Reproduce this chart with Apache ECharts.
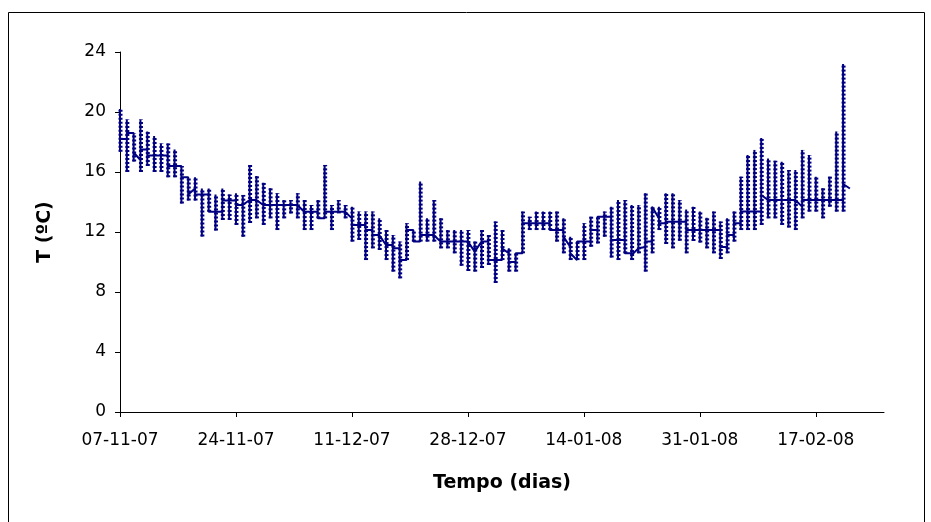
<!DOCTYPE html>
<html>
<head>
<meta charset="utf-8">
<title>Temperatura</title>
<script src="https://cdn.jsdelivr.net/npm/echarts@6/dist/echarts.min.js"></script>
<style>
  html, body { margin: 0; padding: 0; background: #ffffff; }
  #chart { width: 931px; height: 522px; }
</style>
</head>
<body>
<div id="chart"></div>
<script>
// Date tick labels every 17 days, counted from 07-11-07 (day 0)
const tickDays = [0, 17, 34, 51, 68, 85, 102];
const tickLabels = ['07-11-07', '24-11-07', '11-12-07', '28-12-07', '14-01-08', '31-01-08', '17-02-08'];

// Daily logger readings (ºC), one entry per day starting 07-11-07:
// first reading, daily minimum, daily maximum, last reading
const tStart = [
  18.2, 18.2, 18.6, 16.8, 17.5, 17.1, 17.1, 17.1, 16.4, 16.4,
  15.65, 14.9, 14.5, 14.5, 13.35, 13.35, 14.1, 14.1, 13.8, 14.13,
  14.13, 13.8, 13.8, 13.8, 13.8, 13.8, 13.8, 13.35, 13.35, 13.35,
  12.91, 13.35, 13.35, 13.35, 12.91, 12.47, 12.47, 12.13, 11.8, 11.13,
  11.13, 10.91, 10.13, 12.13, 11.36, 11.8, 11.8, 11.36, 11.36, 11.36,
  11.36, 11.36, 10.69, 11.36, 11.36, 10.13, 10.13, 10.58, 10.0, 10.58,
  12.58, 12.58, 12.58, 12.58, 12.13, 12.13, 11.02, 10.13, 11.36, 11.36,
  12.13, 13.02, 13.02, 11.47, 11.47, 10.58, 10.91, 11.0, 11.36, 12.91,
  12.58, 12.69, 12.69, 12.69, 12.13, 12.13, 12.13, 12.13, 12.13, 11.0,
  11.8, 12.58, 13.36, 13.36, 13.36, 14.13, 14.13, 14.13, 14.13, 14.13,
  13.69, 14.13, 14.13, 14.13, 14.13, 14.13, 14.13, 14.9
];
const tMin = [
  17.35, 16.0, 16.7, 16.0, 16.4, 16.0, 16.0, 15.65, 15.65, 13.9,
  14.1, 14.1, 11.7, 13.35, 12.1, 12.8, 12.8, 12.47, 11.69, 12.6,
  12.91, 12.47, 12.91, 12.13, 12.91, 13.24, 12.91, 12.13, 12.13, 12.91,
  12.91, 12.13, 13.24, 12.91, 11.36, 11.47, 10.13, 10.91, 10.8, 10.13,
  9.36, 8.91, 10.13, 11.36, 11.36, 11.36, 11.36, 10.91, 10.91, 10.58,
  9.75, 9.4, 9.36, 9.6, 9.8, 8.6, 10.13, 9.36, 9.36, 10.58,
  12.13, 12.13, 12.13, 12.13, 11.36, 10.58, 10.13, 10.13, 10.13, 11.02,
  11.24, 11.69, 10.3, 10.13, 10.58, 10.13, 10.58, 9.36, 10.58, 12.13,
  11.2, 10.91, 11.42, 10.58, 11.4, 11.3, 10.91, 10.58, 10.2, 10.58,
  11.36, 12.13, 12.13, 12.13, 12.47, 12.91, 12.91, 12.47, 12.3, 12.13,
  12.91, 13.36, 13.36, 12.91, 13.69, 13.36, 13.36, 14.9
];
const tMax = [
  20.2, 19.5, 18.6, 19.5, 18.7, 18.4, 17.9, 17.9, 17.5, 16.4,
  15.65, 15.65, 14.9, 14.9, 14.5, 14.9, 14.5, 14.58, 14.47, 16.47,
  15.73, 15.29, 14.91, 14.58, 14.13, 14.13, 14.58, 14.13, 13.8, 14.13,
  16.47, 13.8, 14.13, 13.8, 13.69, 13.36, 13.36, 13.36, 12.91, 12.13,
  11.8, 11.36, 12.58, 12.13, 15.36, 12.91, 14.13, 12.91, 12.13, 12.13,
  12.13, 12.13, 11.36, 12.13, 11.8, 12.7, 12.13, 10.91, 10.58, 13.36,
  13.02, 13.36, 13.36, 13.36, 13.36, 12.91, 11.69, 11.36, 12.58, 13.02,
  13.02, 13.36, 13.69, 14.13, 14.13, 13.8, 13.8, 14.58, 13.69, 13.69,
  14.58, 14.58, 14.13, 13.5, 13.69, 13.36, 12.95, 13.36, 12.7, 12.91,
  13.36, 15.69, 17.13, 17.47, 18.27, 16.9, 16.75, 16.69, 16.13, 16.13,
  17.47, 17.13, 15.69, 14.91, 15.69, 18.7, 23.2, 14.9
];
const tEnd = [
  18.2, 18.6, 17.3, 17.5, 17.1, 17.1, 17.1, 16.4, 16.4, 15.65,
  14.5, 14.5, 14.5, 13.35, 13.35, 14.1, 14.1, 13.8, 13.8, 14.13,
  14.13, 13.8, 13.8, 13.8, 13.8, 13.8, 13.8, 13.35, 13.35, 12.91,
  13.35, 13.35, 13.35, 13.35, 12.47, 12.47, 12.13, 11.8, 11.8, 11.13,
  10.91, 10.13, 12.13, 11.36, 11.8, 11.8, 11.8, 11.36, 11.36, 11.36,
  11.36, 11.36, 10.69, 11.36, 10.13, 10.13, 10.91, 10.0, 10.58, 12.58,
  12.58, 12.58, 12.58, 12.13, 12.13, 11.69, 10.58, 11.36, 11.36, 12.13,
  13.02, 13.02, 11.47, 11.47, 10.58, 10.47, 10.91, 11.36, 13.69, 12.58,
  12.69, 12.69, 12.69, 12.13, 12.13, 12.13, 12.13, 12.13, 11.0, 11.8,
  12.58, 13.36, 13.36, 13.36, 14.47, 14.13, 14.13, 14.13, 14.13, 14.13,
  14.13, 14.13, 14.13, 14.13, 14.13, 14.13, 15.2, 14.9
];

// All readings of one day share the same x position, so the trace
// runs through start -> min -> max -> end at each day.
const tracePoints = [];
for (let d = 0; d < tStart.length; d++) {
  tracePoints.push([d, tStart[d]], [d, tMin[d]], [d, tMax[d]], [d, tEnd[d]]);
}
const dayRanges = tMin.map((lo, d) => [d, lo, tMax[d]]);

const navy = '#000080';
const textFont = 'DejaVu Sans';

const chart = echarts.init(document.getElementById('chart'), null, { renderer: 'canvas' });

chart.setOption({
  animation: false,
  backgroundColor: '#ffffff',
  grid: { left: 120, right: 47, top: 52, bottom: 110, containLabel: false },
  graphic: [{
    type: 'rect',
    shape: { x: 8.5, y: 12.5, width: 916, height: 530 },
    style: { fill: 'none', stroke: '#000000', lineWidth: 1 },
    silent: true,
    z: 0
  }],
  xAxis: {
    type: 'value',
    min: 0,
    max: 112,
    interval: 17,
    name: 'Tempo (dias)',
    nameLocation: 'middle',
    nameGap: 62,
    nameTextStyle: { fontFamily: textFont, fontWeight: 'bold', fontSize: 19, color: '#000' },
    axisLine: { show: true, onZero: false, lineStyle: { color: '#000', width: 1 } },
    axisTick: { show: true, inside: false, length: 5, customValues: tickDays, lineStyle: { color: '#000' } },
    axisLabel: {
      customValues: tickDays,
      margin: 20,
      fontFamily: textFont,
      fontSize: 17,
      color: '#000',
      formatter: v => tickLabels[tickDays.indexOf(v)] || ''
    },
    splitLine: { show: false }
  },
  yAxis: {
    type: 'value',
    min: 0,
    max: 24,
    interval: 4,
    name: 'T (ºC)',
    nameLocation: 'middle',
    nameRotate: 90,
    nameGap: 65,
    nameTextStyle: { fontFamily: textFont, fontWeight: 'bold', fontSize: 19, color: '#000' },
    axisLine: { show: true, lineStyle: { color: '#000', width: 1 } },
    axisTick: { show: true, inside: false, length: 5, lineStyle: { color: '#000' } },
    axisLabel: { margin: 14, fontFamily: textFont, fontSize: 17, color: '#000' },
    splitLine: { show: false }
  },
  series: [
    {
      name: 'T',
      type: 'line',
      data: tracePoints,
      showSymbol: false,
      symbol: 'none',
      lineStyle: { color: navy, width: 2 },
      z: 2
    },
    {
      name: 'readings',
      type: 'custom',
      data: dayRanges,
      encode: { x: 0, y: [1, 2] },
      silent: true,
      z: 3,
      renderItem: function (params, api) {
        const lo = api.coord([api.value(0), api.value(1)]);
        const hi = api.coord([api.value(0), api.value(2)]);
        return {
          type: 'line',
          shape: { x1: lo[0] + 0.5, y1: lo[1], x2: hi[0] + 0.5, y2: hi[1] },
          style: { stroke: navy, lineWidth: 4, lineDash: [2, 2] }
        };
      }
    }
  ]
});
</script>
</body>
</html>
